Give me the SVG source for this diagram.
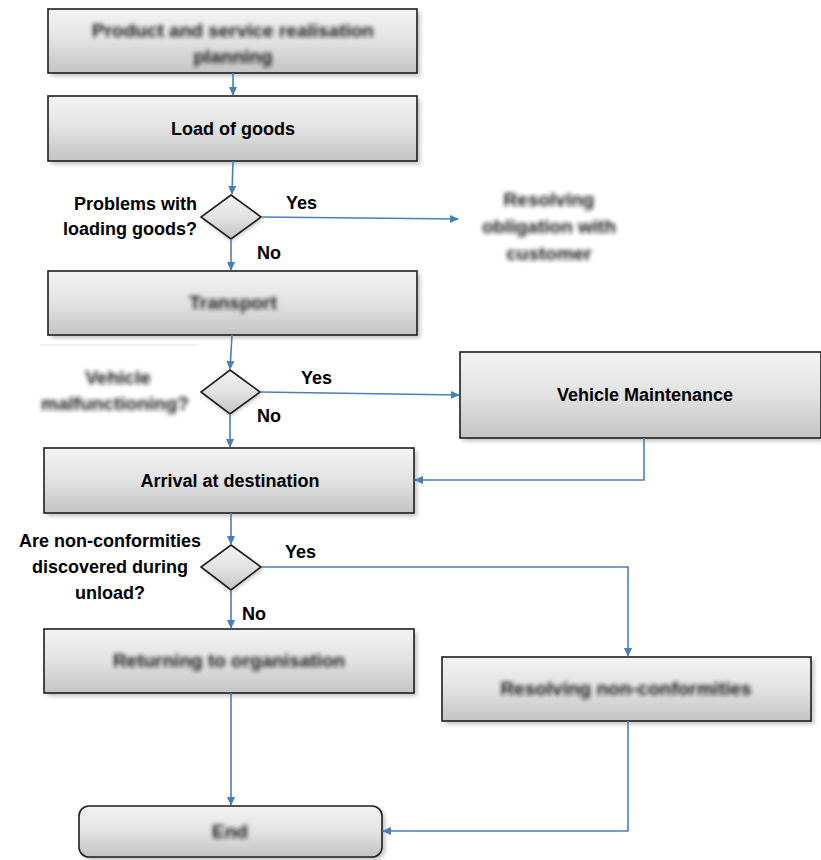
<svg xmlns="http://www.w3.org/2000/svg" width="821" height="860" viewBox="0 0 821 860">
<defs>
<linearGradient id="g" x1="0" y1="0" x2="0" y2="1">
<stop offset="0" stop-color="#f3f3f3"/>
<stop offset="0.5" stop-color="#e2e2e2"/>
<stop offset="1" stop-color="#c4c4c4"/>
</linearGradient>
<filter id="sh" x="-10%" y="-20%" width="130%" height="160%">
<feGaussianBlur stdDeviation="2"/>
</filter>
<filter id="blur" x="-20%" y="-50%" width="140%" height="200%">
<feGaussianBlur stdDeviation="2.3"/>
</filter>
<marker id="arr" markerWidth="10" markerHeight="10" refX="8" refY="5" orient="auto" markerUnits="userSpaceOnUse">
<path d="M0,1 L9,5 L0,9 Z" fill="#4a7ebb"/>
</marker>
</defs>
<style>
.box{fill:url(#g);stroke:#1e1e1e;stroke-width:1.6}
.shadow{fill:#8a8a8a;opacity:0.55;filter:url(#sh)}
.lbl{font-family:"Liberation Sans",Arial,sans-serif;font-weight:bold;font-size:18px;fill:#000}
.blr{font-family:"Liberation Sans",Arial,sans-serif;font-weight:bold;font-size:19px;fill:#1a1a1a;filter:url(#blur)}
.ln{fill:none;stroke:#4a7ebb;stroke-width:1.6}
</style>
<rect width="821" height="860" fill="#fff"/>

<g id="n1">
<rect class="shadow" x="51" y="12" width="369" height="64"/>
<rect class="box" x="48" y="9" width="369" height="64"/>
<text class="blr" x="233" y="37" text-anchor="middle">Product and service realisation</text>
<text class="blr" x="233" y="63" text-anchor="middle">planning</text>
</g>
<g id="n2">
<rect class="shadow" x="51" y="99" width="369" height="65"/>
<rect class="box" x="48" y="96" width="369" height="65"/>
<text class="lbl" x="233" y="135" text-anchor="middle">Load of goods</text>
</g>
<g id="d1">
<path class="shadow" d="M231,197 L263,219 L231,241 L203,219 Z"/>
<path class="box" d="M231,195 L261,217 L231,239 L201,217 Z"/>
<text class="lbl" x="197" y="210" text-anchor="end">Problems with</text>
<text class="lbl" x="197" y="235" text-anchor="end">loading goods?</text>
</g>
<g id="n_obl">
<text class="blr" x="549" y="206" text-anchor="middle">Resolving</text>
<text class="blr" x="549" y="233" text-anchor="middle">obligation with</text>
<text class="blr" x="549" y="260" text-anchor="middle">customer</text>
</g>
<g id="n3">
<rect class="shadow" x="51" y="274" width="369" height="64"/>
<rect class="box" x="48" y="271" width="369" height="64"/>
<text class="blr" x="233" y="309" text-anchor="middle">Transport</text>
</g>
<g id="d2">
<line x1="40" y1="345" x2="197" y2="345" stroke="#eeeeee" stroke-width="1.5"/>
<path class="shadow" d="M230,372 L262,394 L230,416 L203,394 Z"/>
<path class="box" d="M230,370 L260,392 L230,414 L201,392 Z"/>
<text class="blr" x="118" y="384" text-anchor="middle">Vehicle</text>
<text class="blr" x="115" y="410" text-anchor="middle">malfunctioning?</text>
</g>
<g id="n_vm">
<rect class="shadow" x="463" y="355" width="361" height="86"/>
<rect class="box" x="460" y="352" width="361" height="86"/>
<text class="lbl" x="645" y="401" text-anchor="middle">Vehicle Maintenance</text>
</g>
<g id="n4">
<rect class="shadow" x="47" y="451" width="370" height="65"/>
<rect class="box" x="44" y="448" width="370" height="65"/>
<text class="lbl" x="230" y="487" text-anchor="middle">Arrival at destination</text>
</g>
<g id="d3">
<path class="shadow" d="M231,547 L263,569 L231,592 L203,569 Z"/>
<path class="box" d="M231,545 L261,567 L231,590 L201,567 Z"/>
<text class="lbl" x="110" y="547" text-anchor="middle">Are non-conformities</text>
<text class="lbl" x="110" y="573" text-anchor="middle">discovered during</text>
<text class="lbl" x="110" y="599" text-anchor="middle">unload?</text>
</g>
<g id="n5">
<rect class="shadow" x="47" y="632" width="370" height="64"/>
<rect class="box" x="44" y="629" width="370" height="64"/>
<text class="blr" x="229" y="667" text-anchor="middle">Returning to organisation</text>
</g>
<g id="n6">
<rect class="shadow" x="445" y="660" width="369" height="64"/>
<rect class="box" x="442" y="657" width="369" height="64"/>
<text class="blr" x="626" y="695" text-anchor="middle">Resolving non-conformities</text>
</g>
<g id="n_end">
<rect class="shadow" x="82" y="809" width="303" height="51" rx="10"/>
<rect class="box" x="79" y="806" width="303" height="51" rx="10"/>
<text class="blr" x="230" y="838" text-anchor="middle">End</text>
</g>

<g id="connectors">
<line class="ln" x1="233" y1="73" x2="233" y2="95" marker-end="url(#arr)"/>
<line class="ln" x1="233" y1="161" x2="232" y2="194" marker-end="url(#arr)"/>
<line class="ln" x1="261" y1="217" x2="458" y2="219" marker-end="url(#arr)"/>
<line class="ln" x1="231" y1="239" x2="231" y2="270" marker-end="url(#arr)"/>
<line class="ln" x1="232" y1="335" x2="230" y2="369" marker-end="url(#arr)"/>
<line class="ln" x1="260" y1="392" x2="459" y2="395" marker-end="url(#arr)"/>
<line class="ln" x1="230" y1="414" x2="230" y2="447" marker-end="url(#arr)"/>
<polyline class="ln" points="644,438 644,480 415,480" marker-end="url(#arr)"/>
<line class="ln" x1="231" y1="513" x2="231" y2="544" marker-end="url(#arr)"/>
<polyline class="ln" points="261,567 628,567 628,656" marker-end="url(#arr)"/>
<line class="ln" x1="231" y1="590" x2="231" y2="628" marker-end="url(#arr)"/>
<line class="ln" x1="231" y1="693" x2="231" y2="805" marker-end="url(#arr)"/>
<polyline class="ln" points="628,721 628,831 383,831" marker-end="url(#arr)"/>
</g>
<g id="labels">
<text class="lbl" x="286" y="209">Yes</text>
<text class="lbl" x="257" y="259">No</text>
<text class="lbl" x="301" y="384">Yes</text>
<text class="lbl" x="257" y="422">No</text>
<text class="lbl" x="285" y="558">Yes</text>
<text class="lbl" x="242" y="620">No</text>
</g>
</svg>
